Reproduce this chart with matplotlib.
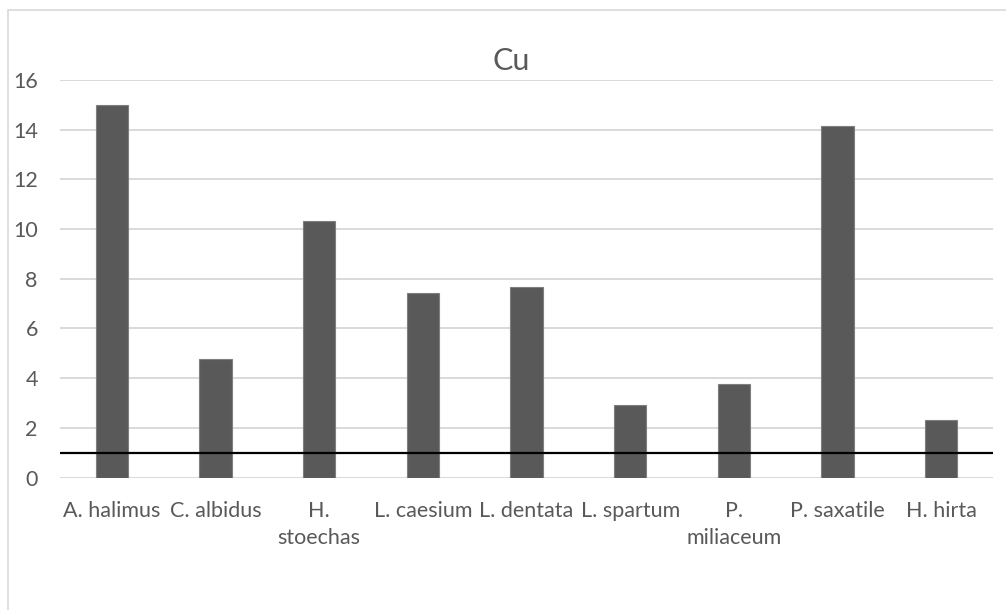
import matplotlib.pyplot as plt
from matplotlib.patches import Rectangle

# Cu content per species
species = ["A. halimus", "C. albidus", "H.\nstoechas", "L. caesium", "L. dentata",
           "L. spartum", "P.\nmiliaceum", "P. saxatile", "H. hirta"]
cu_values = [15.0, 4.78, 10.32, 7.44, 7.67, 2.91, 3.75, 14.13, 2.33]
reference_level = 1.0
y_ticks = [0, 2, 4, 6, 8, 10, 12, 14, 16]

plt.rcParams["font.family"] = ["Lato", "DejaVu Sans"]
text_grey = "#595959"

fig = plt.figure(figsize=(10.06, 6.10), dpi=100)
ax = fig.add_axes([60 / 1006, 1 - 477.5 / 610, 933 / 1006, 397.5 / 610])

x = range(len(species))
ax.bar(x, cu_values, width=0.31, color="#595959", edgecolor="#7f7f7f",
       linewidth=0.8, zorder=3)
ax.axhline(reference_level, color="black", linewidth=1.6, zorder=4)

ax.set_xlim(-0.5, len(species) - 0.5)
ax.set_ylim(0, 16)
ax.set_yticks(y_ticks)
ax.set_xticks(list(x))
ax.set_xticklabels(species, linespacing=1.45)
ax.tick_params(axis="both", length=0, labelsize=15.5, colors=text_grey)
ax.tick_params(axis="y", pad=16)
ax.tick_params(axis="x", pad=17)
for lbl in ax.get_xticklabels():
    lbl.set_verticalalignment("top")

ax.grid(axis="y", color="#d9d9d9", linewidth=1.4, zorder=0)
for s in ax.spines.values():
    s.set_visible(False)

# title sits centred on the whole chart, not the plot area
ax.set_title("Cu", fontsize=22, color=text_grey, pad=7, x=0.484)

# chart frame (only left and top edges fall inside the image)
fig.patches.append(Rectangle((7.5 / 1006, -0.1), 1.2, 1 - 10 / 610 + 0.1,
                             transform=fig.transFigure, fill=False,
                             edgecolor="#d9d9d9", linewidth=1.2))

fig.savefig("out.png", dpi=100)
